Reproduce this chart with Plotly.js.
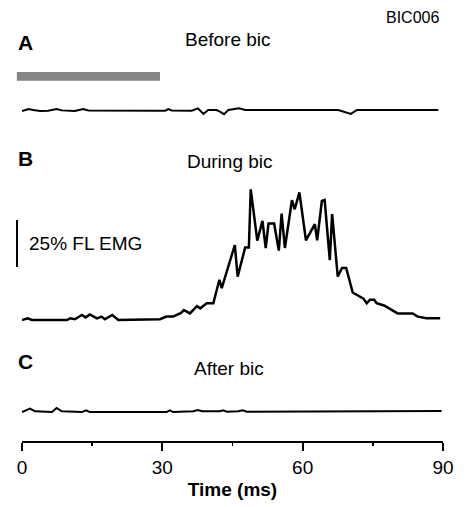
<!DOCTYPE html>
<html>
<head>
<meta charset="utf-8">
<script src="https://cdn.plot.ly/plotly-3.0.1.min.js"></script>
<style>html,body{margin:0;padding:0;background:#fff;}#chart{width:470px;height:507px;}</style>
</head>
<body>
<div id="chart"></div>
<script>
// ---- Data (time in ms, EMG in % FL EMG above baseline) ----
const timeA = [0,1.4,2.4,3.9,5.6,7.4,8.5,11.3,13.1,14.2,30.6,31.3,32.0,36.3,37.6,38.8,39.8,41.6,42.3,43.2,44.1,45.2,46.4,47.7,64.8,67.6,70.3,71.6,89.0];
const emgA  = [-0.5,0.5,0,-0.5,-0.4,0.5,-0.2,-0.5,0.5,-0.2,-0.4,0.5,-0.2,-0.4,0.9,-2.1,0,0,-0.9,-2.2,0,0.5,0.9,0,0,0,-2.1,0,0];

const timeB = [0,1.2,2.1,9.6,10.3,11.3,12.8,13.6,14.5,16.0,17.0,17.7,19.3,20.6,29.5,30.9,32.3,33.1,34.1,34.6,35.9,37.4,38.1,39.5,40.9,42.2,42.7,45.5,46.1,47.7,48.5,48.9,50.3,51.4,52.1,52.7,53.9,54.9,55.5,56.2,57.7,58.3,59.3,60.7,62.6,63.1,64.1,64.7,65.8,66.3,67.5,68.4,69.3,70.7,73.0,73.7,74.4,75.3,75.8,77.4,80.3,83.5,84.6,86.5,89.4];
const emgB  = [0,0.9,0,0,0.9,0.4,2.7,1.4,3.0,0.9,1.8,0.4,2.7,0,0.4,1.8,1.8,2.7,3.9,5.3,3.5,7.4,6.2,8.9,8.9,21.4,16.9,39.9,23.0,38.5,38.5,69.5,42.2,52.7,38.3,51.3,51.3,36.9,56.6,38.3,63.7,58.9,67.9,42.4,51.0,42.4,63.3,63.8,31.9,56.3,23.1,27.7,27.7,14.6,11.3,8.9,10.8,10.8,8.9,7.7,3.5,3.5,1.8,0.9,0.9];

const timeC = [0,1.2,1.7,2.8,6.4,7.4,8.5,12.8,13.7,14.5,30.9,31.6,32.3,36.6,37.6,38.5,42.3,43.0,43.8,46.2,47.2,48.0,89.7];
const emgC  = [-0.3,1.0,1.5,0.1,-0.3,1.9,0.1,-0.3,0.6,-0.3,-0.3,0.6,-0.3,0.1,0.8,0.1,0.1,0.6,-0.1,0.1,0.6,-0.1,0.2];

const stimWindow = [-1.1, 29.5];          // ms, stimulus bar
const scaleBar = [28.2, 25];              // start (%), length (%)
const xTicks = [0, 30, 60, 90];
const panelLabels = ["A", "B", "C"];
const panelTitles = ["Before bic", "During bic", "After bic"];
const figureId = "BIC006";
const scaleLabel = "25% FL EMG";
const xTitle = "Time (ms)";

// ---- Layout helpers ----
const W = 470, H = 507;
const L = 22, R = 27, T = 10, B = 65;
const plotW = W - L - R, plotH = H - T - B;
const pxPerUnit = 1.88;
const xMax = 90;
const fx = px => (px - L) / plotW;
const fy = py => (H - B - py) / plotH;
const msToPaper = ms => ms / xMax;

function panelAxis(basePx, botPx, topPx) {
  return {
    domain: [fy(botPx), fy(topPx)],
    range: [(basePx - botPx) / pxPerUnit, (basePx - topPx) / pxPerUnit],
    visible: false, fixedrange: true, zeroline: false, showgrid: false
  };
}

const font = "Liberation Sans, Arial, Helvetica, sans-serif";
const line = {color: "#000", width: 2, shape: "linear"};

const traces = [
  {x: timeA, y: emgA, type: "scatter", mode: "lines", line: line, xaxis: "x", yaxis: "y", hoverinfo: "skip"},
  {x: timeB, y: emgB, type: "scatter", mode: "lines", line: {color: "#000", width: 2.5}, xaxis: "x", yaxis: "y2", hoverinfo: "skip"},
  {x: timeC, y: emgC, type: "scatter", mode: "lines", line: line, xaxis: "x", yaxis: "y3", hoverinfo: "skip"}
];

const labelY = [42, 158, 361];
const titleY = [40, 161, 368];
const titleX = [227.5, 230, 229];

const annotations = [];
panelLabels.forEach((t, i) => {
  annotations.push({text: "<b>" + t + "</b>", xref: "paper", yref: "paper", x: fx(16), y: fy(labelY[i]),
    xanchor: "left", yanchor: "middle", showarrow: false, font: {family: font, size: 21, color: "#000"}});
});
panelTitles.forEach((t, i) => {
  annotations.push({text: t, xref: "paper", yref: "paper", x: fx(titleX[i]), y: fy(titleY[i]),
    xanchor: "center", yanchor: "middle", showarrow: false, font: {family: font, size: 19, color: "#000"}});
});
annotations.push({text: figureId, xref: "paper", yref: "paper", x: fx(412), y: fy(17.5),
  xanchor: "center", yanchor: "middle", showarrow: false, font: {family: font, size: 16, color: "#000"}});
annotations.push({text: scaleLabel, xref: "paper", yref: "y2", x: fx(27), y: scaleBar[0] + scaleBar[1] / 2,
  xanchor: "left", yanchor: "middle", showarrow: false, font: {family: font, size: 19, color: "#000"}});

const shapes = [
  {type: "rect", xref: "paper", yref: "paper", x0: msToPaper(stimWindow[0]), x1: msToPaper(stimWindow[1]),
   y0: fy(80.7), y1: fy(72), fillcolor: "#858585", line: {width: 0}},
  {type: "line", xref: "paper", yref: "y2", x0: fx(17), x1: fx(17), y0: scaleBar[0], y1: scaleBar[0] + scaleBar[1],
   line: {color: "#000", width: 2}}
];

const layout = {
  width: W, height: H,
  margin: {l: L, r: R, t: T, b: B, pad: 0},
  paper_bgcolor: "#fff", plot_bgcolor: "#fff",
  showlegend: false,
  xaxis: {
    range: [0, xMax], fixedrange: true,
    showline: true, linecolor: "#000", linewidth: 2,
    showgrid: false, zeroline: false,
    tickmode: "array", tickvals: xTicks, ticktext: xTicks.map(String),
    ticks: "outside", ticklen: 8, tickwidth: 2, tickcolor: "#000",
    minor: {dtick: 15, tick0: 0, ticks: "outside", ticklen: 3, tickwidth: 1.5, tickcolor: "#000", showgrid: false},
    tickfont: {family: font, size: 19, color: "#000"},
    title: {text: "<b>" + xTitle + "</b>", font: {family: font, size: 19, color: "#000"}, standoff: 5},
    anchor: "free", position: 0
  },
  yaxis: panelAxis(110, 125, 95),
  yaxis2: panelAxis(320, 330, 180),
  yaxis3: panelAxis(411.5, 425, 395),
  annotations: annotations,
  shapes: shapes
};

Plotly.newPlot("chart", traces, layout, {staticPlot: true, displayModeBar: false});
</script>
</body>
</html>
